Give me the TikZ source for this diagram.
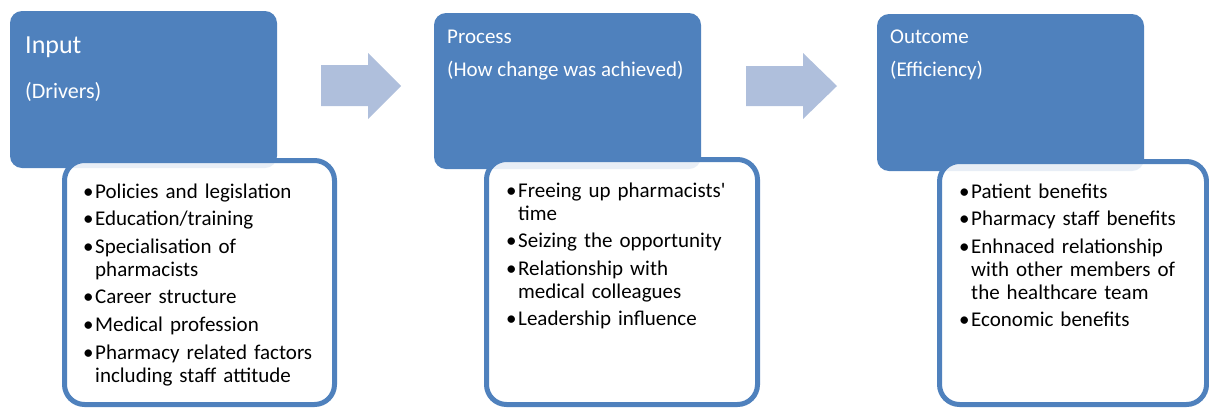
\documentclass[tikz,border=0pt]{standalone}
\usepackage{fontspec}
\setmainfont{Carlito}
\definecolor{accent}{HTML}{4F81BD}
\definecolor{arrowc}{HTML}{AFBFDC}
\newcommand\bitem[1]{\hangindent=12pt\hangafter=1\noindent\makebox[12pt][l]{\textbullet}#1\par}
\tikzset{
  hdrbox/.style={fill=accent, rounded corners=12pt},
  bodybox/.style={fill=white, draw=accent, line width=5pt, rounded corners=20pt},
  htext/.style={text=white, anchor=base west, inner sep=0pt, font=\fontsize{21}{25}\selectfont},
  listtext/.style={anchor=base west, inner sep=0pt, text width=270pt, align=left,
    font=\fontsize{21}{23}\selectfont\setlength\parskip{4.6pt}},
  blockarrow/.style={fill=arrowc},
}
\begin{document}
\begin{tikzpicture}[x=1pt,y=-1pt]
\useasboundingbox (0,0) rectangle (1209,408);

% ---------- Box 1 ----------
\fill[hdrbox] (10,11) rectangle (277,168);
\fill[white, rounded corners=20pt] (64.5,160.5) rectangle (334.5,404.5);
\begin{scope}
  \clip[rounded corners=20pt] (64.5,160.5) rectangle (334.5,404.5);
  \fill[hdrbox, opacity=0.13] (10,11) rectangle (277,168);
\end{scope}
\draw[bodybox, fill=none] (64.5,160.5) rectangle (334.5,404.5);
\node[htext, font=\fontsize{26}{30}\selectfont] (in1) at (25,53) {Input};
\node[htext, font=\fontsize{22}{26}\selectfont] (in2) at (25,98) {(Drivers)};
\node[listtext] (l1) at (83,198) {%
\bitem{Policies and legislation}%
\bitem{Education/training}%
\bitem{Specialisation of\newline pharmacists}%
\bitem{Career structure}%
\bitem{Medical profession}%
\bitem{Pharmacy related factors\newline including staff attitude}};

% ---------- Box 2 ----------
\fill[hdrbox] (434,13) rectangle (701,169);
\fill[white, rounded corners=20pt] (486.5,159.5) rectangle (757.5,404.5);
\begin{scope}
  \clip[rounded corners=20pt] (486.5,159.5) rectangle (757.5,404.5);
  \fill[hdrbox, opacity=0.13] (434,13) rectangle (701,169);
\end{scope}
\draw[bodybox, fill=none] (486.5,159.5) rectangle (757.5,404.5);
\node[htext] (pr1) at (447,43) {Process};
\node[htext] (pr2) at (447,76) {(How change was achieved)};
\node[listtext] (l2) at (506,197) {%
\bitem{Freeing up pharmacists\textquotesingle\newline time}%
\bitem{Seizing the opportunity}%
\bitem{Relationship with\newline medical colleagues}%
\bitem{Leadership influence}};

% ---------- Box 3 ----------
\fill[hdrbox] (877,14) rectangle (1144,171);
\fill[white, rounded corners=20pt] (939.5,161.5) rectangle (1206.5,404.5);
\begin{scope}
  \clip[rounded corners=20pt] (939.5,161.5) rectangle (1206.5,404.5);
  \fill[hdrbox, opacity=0.13] (877,14) rectangle (1144,171);
\end{scope}
\draw[bodybox, fill=none] (939.5,161.5) rectangle (1206.5,404.5);
\node[htext] (oc1) at (890,43) {Outcome};
\node[htext] (oc2) at (890,76) {(Efficiency)};
\node[listtext] (l3) at (959,198) {%
\bitem{Patient benefits}%
\bitem{Pharmacy staff benefits}%
\bitem{Enhnaced relationship\newline with other members of\newline the healthcare team}%
\bitem{Economic benefits}};

% ---------- Block arrows ----------
\fill[blockarrow] (321,65) -- (368,65) -- (368,53) -- (401,86) -- (368,119) -- (368,106) -- (321,106) -- cycle;
\fill[blockarrow] (746,66) -- (803,66) -- (803,53) -- (837,86) -- (803,119) -- (803,106) -- (746,106) -- cycle;
\end{tikzpicture}
\end{document}
